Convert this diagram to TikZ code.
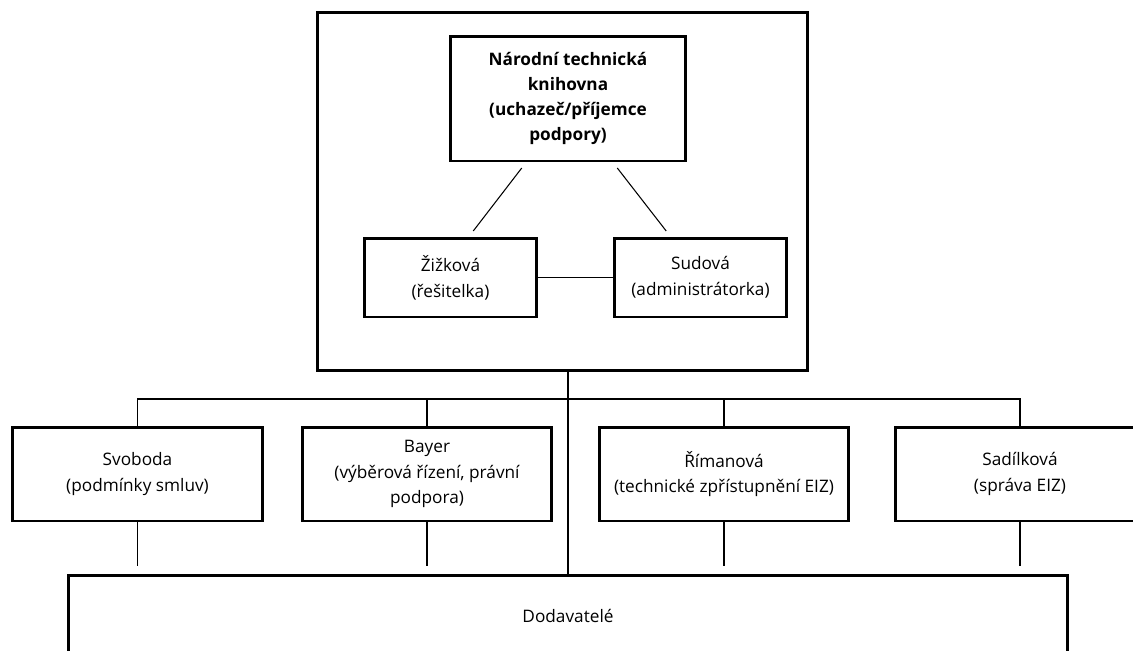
\documentclass[tikz,border=0pt]{standalone}
\usepackage{fontspec}
\setmainfont{Open Sans}
\usetikzlibrary{calc}

\begin{document}
\begin{tikzpicture}[x=0.02cm,y=-0.02cm,
    font=\fontsize{9.8}{14.7}\selectfont,
    box/.style={draw,line width=1.7pt,align=center,inner sep=0pt,
      minimum width=5cm,minimum height=1.88cm},
    spoj/.style={line width=0.6pt}]
  \useasboundingbox (0,0) rectangle (1133,650);
  \clip (0,0) rectangle (1133,650);
  % upper part
  \node[box,minimum width=9.82cm,minimum height=7.18cm] (ustav) at (562.5,191.5) {};
  \node[box,minimum width=4.72cm,minimum height=2.5cm,
    font=\fontsize{9.8}{14.4}\selectfont\bfseries] (ntk) at (568,98.5)
    {Národní technická\\knihovna\\(uchazeč/příjemce\\podpory)};
  \node[box,minimum width=3.46cm,minimum height=1.58cm] (zizkova) at (450.5,277.5)
    {Žižková\\(řešitelka)};
  \node[box,minimum width=3.46cm,minimum height=1.58cm] (sudova) at (700.5,277.5)
    {Sudová\\(administrátorka)};
  % row of people
  \node[box] (svoboda) at (137.5,474) {Svoboda\\(podmínky smluv)};
  \node[box] (bayer) at (427,474) {Bayer\\(výběrová řízení, právní\\podpora)};
  \node[box] (rimanova) at (724,474) {Římanová\\(technické zpřístupnění EIZ)};
  \node[box] (sadilkova) at (1020,474) {Sadílková\\(správa EIZ)};
  \node[box,minimum width=20cm,minimum height=1.64cm] (dodavatele) at (568,616) {Dodavatelé};
  \coordinate (bus) at (568,399);

  \path[spoj,shorten <=0.14cm,shorten >=0.14cm]
    ($(ntk.south)+(-42,0)$) edge ($(zizkova.north)+(18.5,0)$)
    ($(ntk.south)+(45,0)$) edge ($(sudova.north)+(-30,0)$);
  \path[spoj] (zizkova) edge (sudova);
  \draw[spoj] (ustav.south -| dodavatele) -- (dodavatele.north);
  \draw[spoj] (svoboda.north) -- (svoboda.north |- bus) -- (sadilkova.north |- bus) -- (sadilkova.north);
  \draw[spoj] (bayer.north) -- (bayer.north |- bus);
  \draw[spoj] (rimanova.north) -- (rimanova.north |- bus);
  \foreach \kdo in {svoboda,bayer,rimanova,sadilkova}
    \draw[spoj,shorten >=0.15cm] (\kdo.south) -- (\kdo.south |- dodavatele.north);
\end{tikzpicture}
\end{document}
